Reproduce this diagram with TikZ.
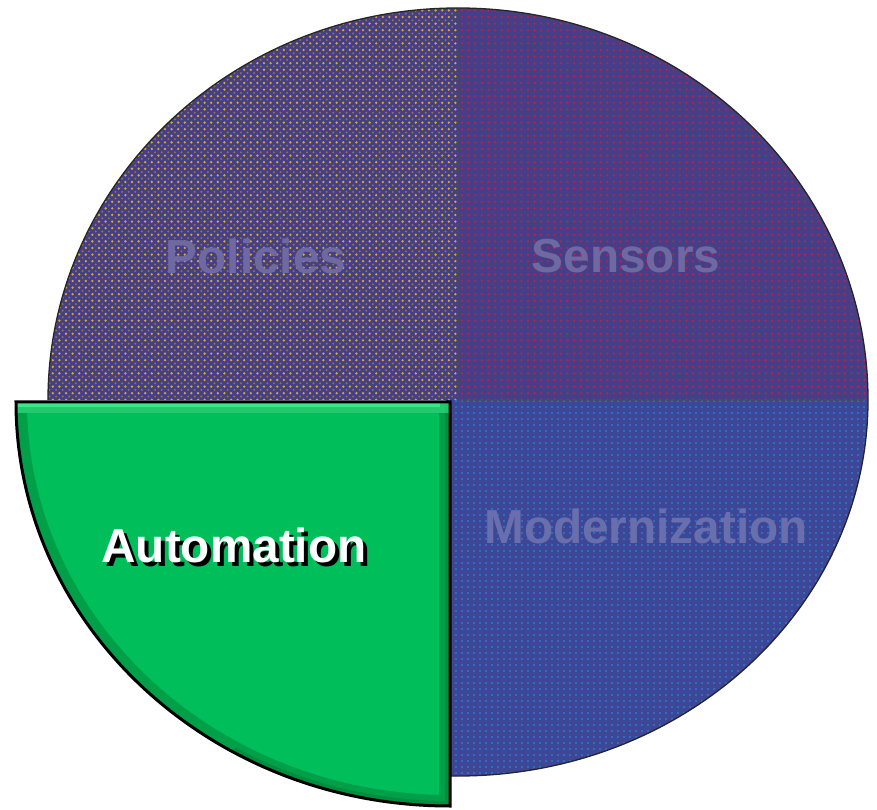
\documentclass[tikz,border=0pt]{standalone}
\usepackage{fontspec}
\setmainfont{Liberation Sans}
\usepackage{tikz}
\usetikzlibrary{patterns.meta}
\definecolor{pieblue}{RGB}{70,63,136}
\definecolor{modblue}{RGB}{62,70,150}
\definecolor{dotgold}{RGB}{215,170,40}
\definecolor{dotolive}{RGB}{140,120,70}
\definecolor{dotred}{RGB}{195,30,70}
\definecolor{dotblue}{RGB}{40,125,215}
\definecolor{autogreen}{RGB}{0,190,90}
\definecolor{autolight}{RGB}{60,230,135}
\definecolor{autodark}{RGB}{0,130,55}
% text with a drop shadow, in one box
\newcommand{\shadowtext}[3]{\makebox[0pt][l]{\hspace*{4pt}\raisebox{-4pt}{\textcolor{#2}{#3}}}\textcolor{#1}{#3}}

\begin{document}
\begin{tikzpicture}[x=1pt,y=1pt,
    piefont/.style={font=\fontsize{47.7}{50}\selectfont\bfseries, inner sep=0pt},
    ghost/.style={piefont, text=pieblue!78!white},
    rim/.style={draw=black!85, line width=1.3pt}]
  \useasboundingbox (0,0) rectangle (877,809);
  % three quarters that stay in place
  \fill[pieblue, postaction={pattern={Dots[radius=1.3pt,distance=6.6pt]}, pattern color=dotgold},
      postaction={pattern={Dots[radius=1.1pt,distance=6.6pt,xshift=3.3pt,yshift=3.3pt]}, pattern color=dotolive}]
    (458,409) -- (48,409) arc[start angle=180, end angle=90, x radius=410pt, y radius=392pt] -- cycle;
  \fill[pieblue, postaction={pattern={Dots[radius=1.2pt,distance=6.6pt]}, pattern color=dotred}]
    (458,409) -- (458,801) arc[start angle=90, end angle=0, x radius=410pt, y radius=392pt] -- cycle;
  \fill[modblue, postaction={pattern={Dots[radius=1.1pt,distance=6pt]}, pattern color=dotblue}]
    (446,409) -- (868,409) arc[start angle=0, end angle=-90, x radius=410pt, y radius=376pt] -- (446,33) -- cycle;
  \draw[black!70, opacity=0.5, line width=0.8pt] (458,801) -- (458,409) -- (868,409);
  \draw[rim] (48,409) arc[start angle=180, end angle=0, x radius=410pt, y radius=392pt]
    arc[start angle=0, end angle=-90, x radius=410pt, y radius=376pt] -- (446,33);
  % the pulled-out quarter
  \begin{scope}
    \clip (450,407) -- (16,407) arc[start angle=180, end angle=270, x radius=434pt, y radius=404pt] -- cycle;
    \fill[autogreen] (0,0) rectangle (460,420);
    \draw[autodark, opacity=0.5, line width=22pt] (450,407) -- (16,407)
      arc[start angle=180, end angle=270, x radius=434pt, y radius=404pt] -- cycle;
    \draw[autodark, opacity=0.6, line width=10pt] (450,407) -- (450,3)
      arc[start angle=270, end angle=240, x radius=434pt, y radius=404pt];
    \draw[autolight, opacity=0.6, line width=22pt] (16,407) -- (450,407);
    \draw[autolight, line width=10pt] (16,407) -- (440,407);
  \end{scope}
  \draw[black, line width=3pt] (450,407) -- (16,407)
    arc[start angle=180, end angle=270, x radius=434pt, y radius=404pt] -- cycle;
  % labels
  \node[ghost] (policies) at (256,553) {Policies};
  \node[ghost] (sensors) at (626,553) {Sensors};
  \node[ghost, text=modblue!78!white] (modernization) at (646,283) {Modernization};
  \node[piefont] (automation) at (234,262) {\shadowtext{white}{black}{Automation}};
\end{tikzpicture}
\end{document}
